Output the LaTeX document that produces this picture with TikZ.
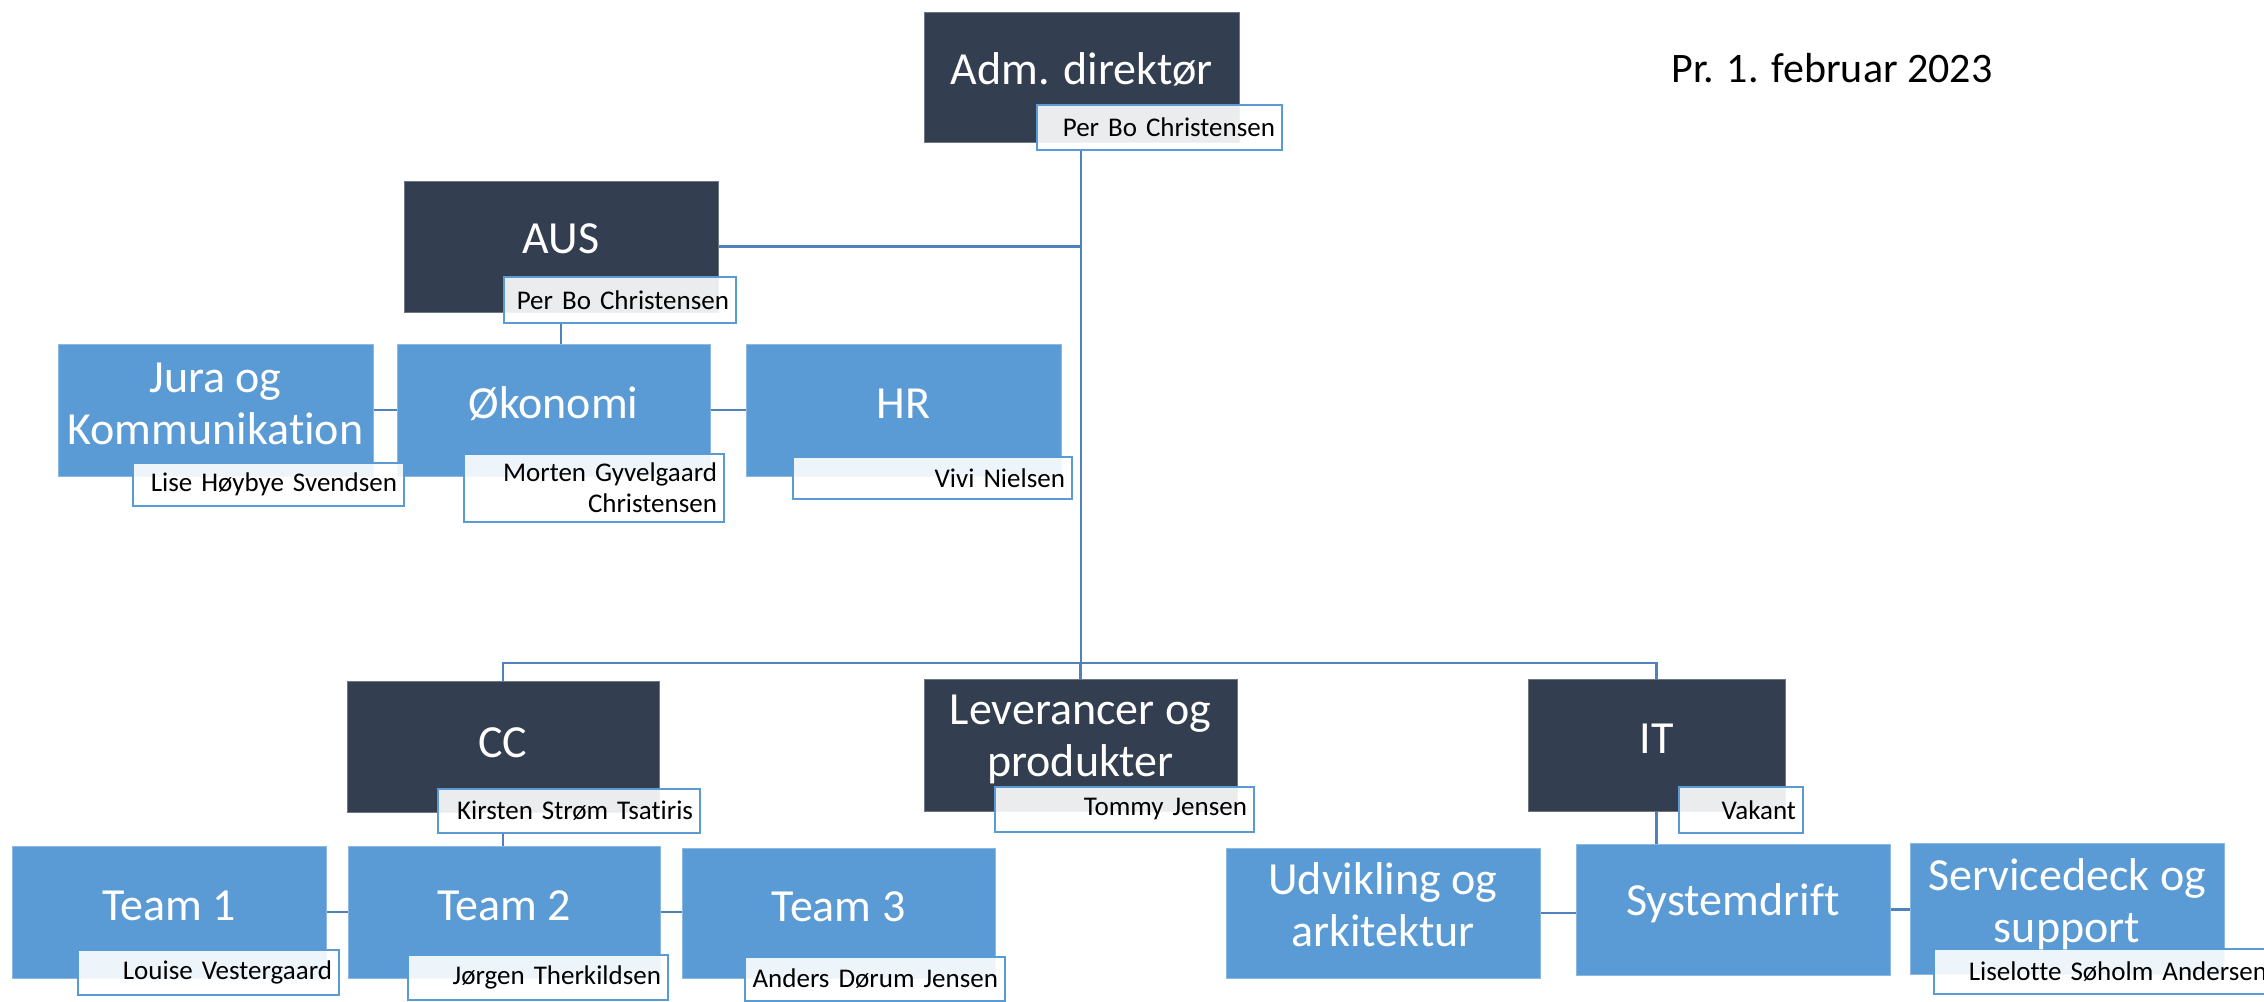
\documentclass[tikz,border=0pt]{standalone}
\usepackage{fontspec}
\setmainfont{Carlito}[Ligatures={NoCommon}]
\usetikzlibrary{calc,fit}
\definecolor{darkbox}{RGB}{51,63,80}
\definecolor{darkedge}{RGB}{110,118,130}
\definecolor{bluebox}{RGB}{91,155,213}
\definecolor{blueedge}{RGB}{140,185,226}
\definecolor{namedge}{RGB}{91,155,213}
\definecolor{linecol}{RGB}{79,129,189}
\begin{document}
\begin{tikzpicture}[x=1pt,y=-1pt,
  dbox/.style={rectangle, inner sep=0pt, fill=darkbox, draw=darkedge, line width=1pt},
  bbox/.style={rectangle, inner sep=0pt, fill=bluebox, draw=blueedge, line width=1pt},
  ttl/.style={text=white, align=center, inner sep=0pt, font=\fontsize{46}{52}\selectfont},
  nbox/.style={rectangle, anchor=north east, fill=white, fill opacity=0.9, text opacity=1,
     draw=namedge, line width=2pt, inner xsep=7pt, inner ysep=0pt, align=right,
     font=\fontsize{27}{31}\selectfont, text=black},
  conn/.style={draw=linecol, line width=2.5pt}]
\useasboundingbox (0,0) rectangle (2264,1001);

% hub coordinate of the main trunk
\coordinate (hub) at (1081,663);

% ---------- connectors ----------
\node[dbox, fit={(924,12) (1239,142)}] (adm) {};
\node[dbox, fit={(404,181) (718,312)}] (aus) {};
\node[bbox, fit={(58,344) (373,476)}] (jura) {};
\node[bbox, fit={(397,344) (710,476)}] (oko) {};
\node[bbox, fit={(746,344) (1061,476)}] (hr) {};
\node[dbox, fit={(347,681) (659,812)}] (cc) {};
\node[dbox, fit={(924,679) (1237,811)}] (lev) {};
\node[dbox, fit={(1528,679) (1785,811)}] (it) {};
\node[bbox, fit={(12,846) (326,978)}] (team1) {};
\node[bbox, fit={(348,846) (660,978)}] (team2) {};
\node[bbox, fit={(682,848) (995,978)}] (team3) {};
\node[bbox, fit={(1226,848) (1540,978)}] (udv) {};
\node[bbox, fit={(1576,844) (1890,975)}] (sys) {};
\node[bbox, fit={(1910,843) (2224,974)}] (svc) {};

% ---------- name boxes ----------
\node[nbox, minimum width=245pt, minimum height=45pt, text width=231pt] (admN) at (1283,104) {Per Bo Christensen};
\node[nbox, minimum width=232pt, minimum height=46pt, text width=218pt] (ausN) at (737,276) {Per Bo Christensen};
\node[nbox, minimum width=271pt, minimum height=43pt, text width=257pt] (juraN) at (405,462) {Lise Høybye Svendsen};
\node[nbox, minimum width=260pt, minimum height=68pt, text width=246pt] (okoN) at (725,453) {Morten Gyvelgaard\\Christensen};
\node[nbox, minimum width=279pt, minimum height=42pt, text width=265pt] (hrN) at (1073,456) {Vivi Nielsen};
\node[nbox, minimum width=262pt, minimum height=44pt, text width=248pt] (ccN) at (701,788) {Kirsten Strøm Tsatiris};
\node[nbox, minimum width=259pt, minimum height=45pt, text width=245pt] (levN) at (1255,786) {Tommy Jensen};
\node[nbox, minimum width=124pt, minimum height=46pt, text width=110pt] (itN) at (1804,786) {Vakant};
\node[nbox, minimum width=261pt, minimum height=45pt, text width=247pt] (t1N) at (340,949) {Louise Vestergaard};
\node[nbox, minimum width=260pt, minimum height=45pt, text width=246pt] (t2N) at (669,954) {Jørgen Therkildsen};
\node[nbox, minimum width=260pt, minimum height=44pt, text width=246pt] (t3N) at (1006,956) {Anders Dørum Jensen};
\node[nbox, minimum width=340pt, minimum height=45pt, text width=326pt] (svcN) at (2275,948) {Liselotte Søholm Andersen};

% ---------- titles ----------
\node[ttl] (admT) at ($(adm.center)+(0,-8)$) {Adm. direktør};
\node[ttl] (ausT) at ($(aus.center)+(0,-8)$) {AUS};
\node[ttl] (juraT) at ($(jura.center)+(0,-6)$) {Jura og\\Kommunikation};
\node[ttl] (okoT) at ($(oko.center)+(0,-6)$) {Økonomi};
\node[ttl] (hrT) at ($(hr.center)+(0,-6)$) {HR};
\node[ttl] (ccT) at ($(cc.center)+(0,-4)$) {CC};
\node[ttl] (levT) at ($(lev.center)+(0,-6)$) {Leverancer og\\produkter};
\node[ttl] (itT) at ($(it.center)+(0,-6)$) {IT};
\node[ttl] (t1T) at ($(team1.center)+(0,-6)$) {Team 1};
\node[ttl] (t2T) at ($(team2.center)+(0,-6)$) {Team 2};
\node[ttl] (t3T) at ($(team3.center)+(0,-6)$) {Team 3};
\node[ttl] (udvT) at ($(udv.center)+(0,-8)$) {Udvikling og\\arkitektur};
\node[ttl] (sysT) at ($(sys.center)+(0,-6)$) {Systemdrift};
\node[ttl] (svcT) at ($(svc.center)+(0,-4)$) {Servicedeck og\\support};

% date
\node[inner sep=0pt, font=\fontsize{42}{50}\selectfont] (date) at (1832,68) {Pr. 1. februar 2023};

% ---------- connectors ----------
\draw[conn] (admN.south -| hub) -- (hub);
\draw[conn] (aus.east) -- (aus.east -| hub);
\draw[conn] (cc.north) -- (cc.north |- hub) -- (it.north |- hub) -- (it.north);
\draw[conn] (lev.north) -- (lev.north |- hub);
\draw[conn] (aus.center |- ausN.south) -- (aus.center |- oko.north);
\draw[conn] (jura.east) -- (oko.west);
\draw[conn] (oko.east) -- (hr.west);
\draw[conn] (cc.center |- ccN.south) -- (cc.center |- team2.north);
\draw[conn] (team1.east) -- (team2.west);
\draw[conn] (team2.east) -- (team2.east -| team3.west);
\draw[conn] (it.south) -- (it.south |- sys.north);
\draw[conn] (udv.east) -- (udv.east -| sys.west);
\draw[conn] (sys.east) -- (sys.east -| svc.west);
\end{tikzpicture}
\end{document}
